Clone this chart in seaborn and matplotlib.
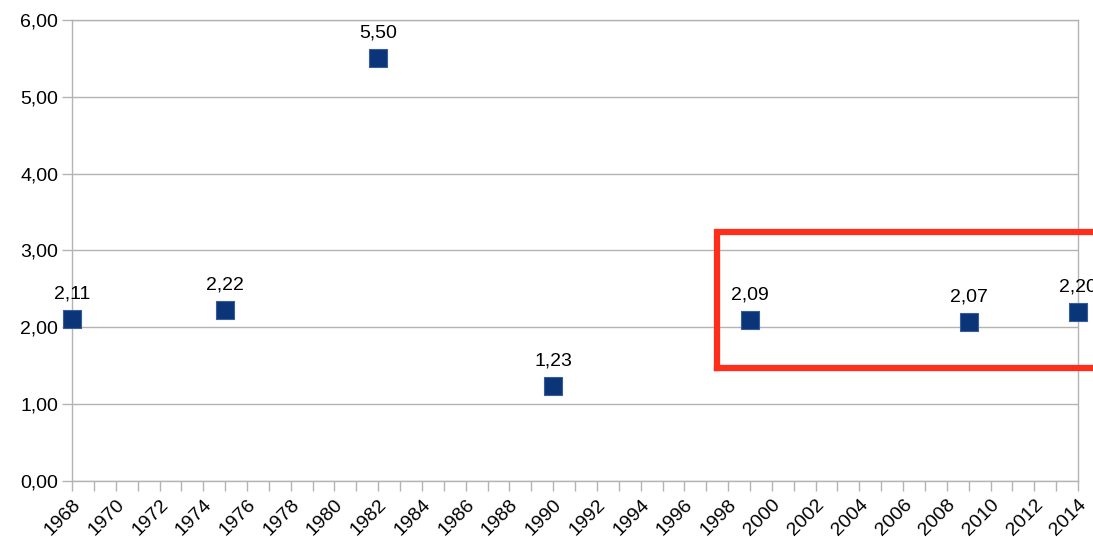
import matplotlib
matplotlib.use("Agg")
import matplotlib.pyplot as plt
from matplotlib.ticker import FuncFormatter, MultipleLocator
import seaborn as sns
import pandas as pd

# -------------------- DATA --------------------
years = [1968, 1975, 1982, 1990, 1999, 2009, 2014]
values = [2.11, 2.22, 5.50, 1.23, 2.09, 2.07, 2.20]
x_ticks = list(range(1968, 2015, 2))
y_ticks = [0, 1, 2, 3, 4, 5, 6]

# highlighted range (years 1997.5 -> past the right edge, values 1.47 -> 3.24)
box_x = [1997.5, 2025, 2025, 1997.5, 1997.5]
box_y = [1.47, 1.47, 3.24, 3.24, 1.47]


def comma(v, _pos=None):
    return f"{v:.2f}".replace(".", ",")


# -------------------- PLOT --------------------
def main():
    sns.set_style("white")
    plt.rcParams["font.family"] = ["Liberation Sans", "DejaVu Sans"]

    df = pd.DataFrame({"Year": years, "Value": values})

    fig = plt.figure(figsize=(10.93, 5.37), dpi=100)
    ax = fig.add_axes([0.0659, 0.1043, 0.9204, 0.8585])

    grid_c = "#b3b3b3"
    ax.set_axisbelow(True)
    ax.yaxis.grid(True, color=grid_c, linewidth=1)

    sns.scatterplot(
        data=df, x="Year", y="Value", ax=ax,
        marker="s", s=150, color="#0a3578",
        edgecolor="#3a5d99", linewidth=0.8, zorder=3, clip_on=False,
    )

    for yr, v in zip(years, values):
        ax.annotate(comma(v), (yr, v), xytext=(0, 18), textcoords="offset points",
                    ha="center", va="center", fontsize=14, color="black",
                    annotation_clip=False)

    ax.plot(box_x, box_y, color="#ff2d1a", linewidth=4.5,
            solid_joinstyle="miter", solid_capstyle="projecting",
            clip_on=False, zorder=5)

    ax.set_xlim(1968, 2014)
    ax.set_ylim(0, 6)
    ax.set_xticks(x_ticks)
    ax.set_yticks(y_ticks)
    ax.xaxis.set_minor_locator(MultipleLocator(1))
    ax.yaxis.set_major_formatter(FuncFormatter(comma))
    ax.set_xticklabels([str(t) for t in x_ticks], rotation=45, ha="right",
                       rotation_mode="anchor", fontsize=14)
    ax.tick_params(axis="y", labelsize=14)
    ax.tick_params(axis="both", which="both", direction="out", color=grid_c,
                   length=7, width=1, labelcolor="black",
                   bottom=True, left=True)
    ax.tick_params(axis="x", which="major", pad=4)
    ax.tick_params(axis="y", which="major", pad=3)
    ax.set_xlabel("")
    ax.set_ylabel("")

    for side in ["left", "right", "bottom", "top"]:
        ax.spines[side].set_visible(True)
        ax.spines[side].set_color(grid_c)
        ax.spines[side].set_linewidth(1)

    fig.savefig("out.png", dpi=100)


if __name__ == "__main__":
    main()
